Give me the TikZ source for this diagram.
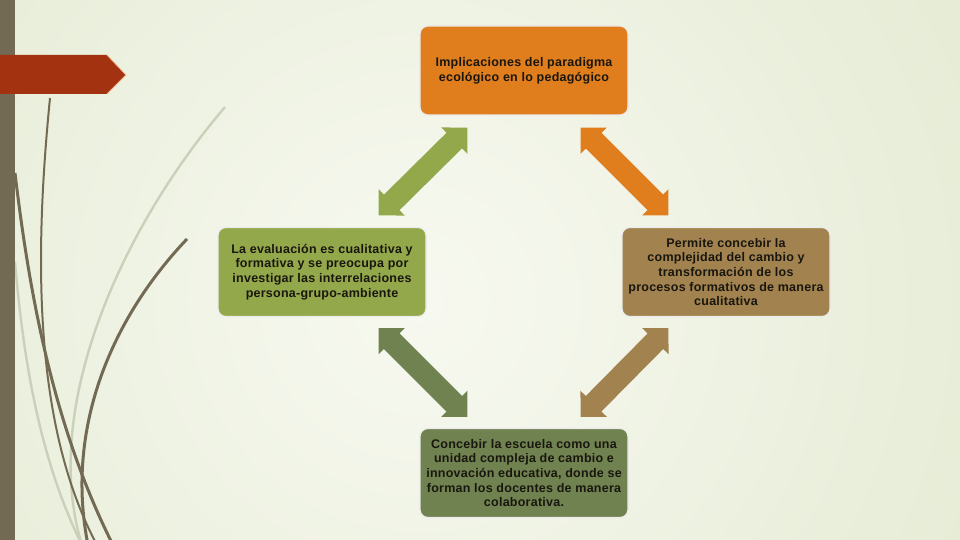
\documentclass[tikz,border=0pt]{standalone}
\usepackage{fontspec}
\setmainfont{Liberation Sans}[LetterSpace=2]
\usetikzlibrary{calc}
\definecolor{bgin}{RGB}{247,249,240}
\definecolor{bgout}{RGB}{212,222,186}
\definecolor{barc}{RGB}{115,106,84}
\definecolor{redc}{RGB}{163,50,16}
\definecolor{orangec}{RGB}{224,126,29}
\definecolor{greenc}{RGB}{147,168,74}
\definecolor{brownc}{RGB}{162,131,79}
\definecolor{dgreenc}{RGB}{112,130,80}
\definecolor{lightc}{RGB}{202,208,186}
\definecolor{txtc}{RGB}{25,22,15}
\newcommand\bidiarrow[3]{%
 \fill[#3] (#1)
 -- ($(#1)!18.5pt!(#2)!18.5pt!90:(#2)$)
 -- ($(#1)!18.5pt!(#2)!11pt!90:(#2)$)
 -- ($(#2)!18.5pt!(#1)!11pt!-90:(#1)$)
 -- ($(#2)!18.5pt!(#1)!18.5pt!-90:(#1)$)
 -- (#2)
 -- ($(#2)!18.5pt!(#1)!18.5pt!90:(#1)$)
 -- ($(#2)!18.5pt!(#1)!11pt!90:(#1)$)
 -- ($(#1)!18.5pt!(#2)!11pt!-90:(#2)$)
 -- ($(#1)!18.5pt!(#2)!18.5pt!-90:(#2)$)
 -- cycle;}
\begin{document}
\begin{tikzpicture}[x=1pt,y=-1pt,
  box/.style={rounded corners=8pt, draw=white!92!black, line width=1.2pt,
    minimum width=208pt, minimum height=89pt, align=center, inner sep=0pt,
    font=\bfseries\fontsize{12.5}{14.7}\selectfont, text=txtc},
  darkcurve/.style={draw=barc, line width=3pt},
  thincurve/.style={draw=barc, line width=2pt},
  lightcurve/.style={draw=lightc, line width=2.4pt}]
\path[use as bounding box] (0,0) rectangle (960,540);
\begin{scope}
\clip (0,0) rectangle (960,540);
\fill[bgout] (0,0) rectangle (960,540);
\shade[inner color=bgin, outer color=bgout] (420,300) circle (1250);
% decorative curves
\draw[lightcurve] (225,107) .. controls (120,230) and (40,410) .. (82,545);
\draw[lightcurve] (15,262) .. controls (25,380) and (45,470) .. (82,545);
\draw[thincurve] (50,98) .. controls (36,240) and (30,420) .. (97,545);
\draw[darkcurve] (15,173) .. controls (30,300) and (55,430) .. (113,545);
\draw[darkcurve] (187,239) .. controls (110,320) and (65,430) .. (88,545);
\end{scope}
% left bar
\fill[barc] (0,0) rectangle (15,540);
% red banner
\fill[redc] (0,55) -- (107,55) -- (126,75) -- (107,94) -- (0,94) -- cycle;
\draw[draw={rgb,255:red,240;green,190;blue,150}, line width=0.8pt] (107,55) -- (126,75) -- (107,94);
% boxes
\node[box, fill=orangec] (top) at (524,70.5) {Implicaciones del paradigma\\ecológico en lo pedagógico};
\node[box, fill=greenc] (left) at (322,272) {La evaluación es cualitativa y\\formativa y se preocupa por\\investigar las interrelaciones\\persona-grupo-ambiente};
\node[box, fill=brownc] (right) at (726,272) {Permite concebir la\\complejidad del cambio y\\transformación de los\\procesos formativos de manera\\cualitativa};
\node[box, fill=dgreenc] (bottom) at (524,473) {Concebir la escuela como una\\unidad compleja de cambio e\\innovación educativa, donde se\\forman los docentes de manera\\colaborativa.};
% arrow ends
\coordinate (tl) at ($(top.south west)+(48,12)$);
\coordinate (lt) at ($(left.north east)+(-48,-11.5)$);
\coordinate (tr) at ($(top.south east)+(-48,12)$);
\coordinate (rt) at ($(right.north west)+(47,-11.5)$);
\coordinate (lb) at ($(left.south east)+(-48,11)$);
\coordinate (bl) at ($(bottom.north west)+(48,-11)$);
\coordinate (rb) at ($(right.south west)+(47,11)$);
\coordinate (br) at ($(bottom.north east)+(-48,-11)$);
\bidiarrow{lt}{tl}{greenc}
\bidiarrow{tr}{rt}{orangec}
\bidiarrow{lb}{bl}{dgreenc}
\bidiarrow{rb}{br}{brownc}
\end{tikzpicture}
\end{document}
